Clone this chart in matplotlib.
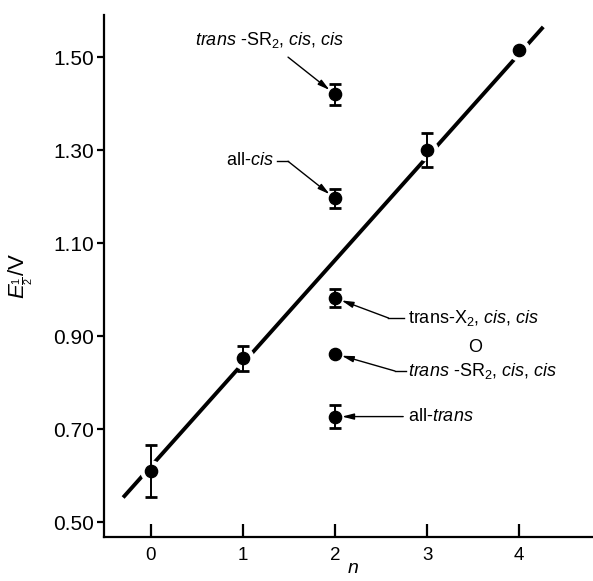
import matplotlib
matplotlib.use("Agg")
import matplotlib.pyplot as plt

plt.rcParams['font.family'] = ['Liberation Sans', 'DejaVu Sans']
plt.rcParams['mathtext.fontset'] = 'custom'
plt.rcParams['mathtext.rm'] = 'Liberation Sans'
plt.rcParams['mathtext.it'] = 'Liberation Sans:italic'

# points on the straight line
n_line = [0, 1, 3, 4]
e_line = [0.61, 0.852, 1.30, 1.515]
err_line = [0.055, 0.027, 0.037, 0.0]

# isomers with n = 2
n_iso = [2, 2, 2, 2, 2]
e_iso = [1.42, 1.196, 0.982, 0.862, 0.727]
err_iso = [0.022, 0.02, 0.02, 0.0, 0.025]

# fitted line (end points)
fit_n = [-0.30, 4.26]
fit_e = [0.553, 1.565]

fig = plt.figure(figsize=(5.93, 5.81), dpi=100)
ax = fig.add_axes([0.175, 0.0757, 0.825, 0.898])

ax.plot(fit_n, fit_e, color='black', lw=2.8, zorder=1, solid_capstyle='butt')

# white halo so the line looks broken at the points
ax.plot(n_line, e_line, 'o', ms=15, color='white', zorder=2)

for n, e, err in zip(n_line + n_iso, e_line + e_iso, err_line + err_iso):
    if err > 0:
        ax.errorbar(n, e, yerr=err, fmt='o', color='black', ms=8.8,
                    capsize=4.3, elinewidth=1.4, capthick=2.0, zorder=3)
    else:
        ax.plot(n, e, 'o', color='black', ms=8.8, zorder=3)

arrow = dict(arrowstyle='-|>,head_length=0.7,head_width=0.18', color='black',
             lw=1.0, shrinkA=0, shrinkB=5)
fs = 13

# top label
ax.text(1.29, 1.537, r'$\mathit{trans}$ -SR$_2$, $\mathit{cis}$, $\mathit{cis}$',
        fontsize=fs, ha='center', va='center')
ax.annotate('', xy=(2, 1.42), xytext=(1.49, 1.50), arrowprops=arrow)

# all-cis
ax.text(1.33, 1.278, r'all-$\mathit{cis}$', fontsize=fs, ha='right', va='center')
ax.plot([1.37, 1.49], [1.276, 1.276], color='black', lw=1.0)
ax.annotate('', xy=(2, 1.196), xytext=(1.49, 1.276), arrowprops=arrow)

# trans-X2
ax.text(2.79, 0.939, r'trans-X$_2$, $\mathit{cis}$, $\mathit{cis}$', fontsize=fs,
        ha='left', va='center')
ax.plot([2.58, 2.75], [0.939, 0.939], color='black', lw=1.0)
ax.annotate('', xy=(2, 0.982), xytext=(2.58, 0.939), arrowprops=arrow)

# stray O
ax.text(3.52, 0.876, 'O', fontsize=fs, ha='center', va='center')

# trans-SR2
ax.text(2.79, 0.825, r'$\mathit{trans}$ -SR$_2$, $\mathit{cis}$, $\mathit{cis}$',
        fontsize=fs, ha='left', va='center')
ax.plot([2.65, 2.77], [0.825, 0.825], color='black', lw=1.0)
ax.annotate('', xy=(2, 0.862), xytext=(2.65, 0.825), arrowprops=arrow)

# all-trans
ax.text(2.79, 0.727, r'all-$\mathit{trans}$', fontsize=fs, ha='left', va='center')
ax.annotate('', xy=(2, 0.727), xytext=(2.74, 0.727), arrowprops=arrow)

ax.set_xlim(-0.51, 4.80)
ax.set_ylim(0.468, 1.590)
ax.set_xticks([0, 1, 2, 3, 4])
ax.set_yticks([0.50, 0.70, 0.90, 1.10, 1.30, 1.50])
ax.set_yticklabels(['0.50', '0.70', '0.90', '1.10', '1.30', '1.50'])

for side in ['top', 'right']:
    ax.spines[side].set_visible(False)
for side in ['left', 'bottom']:
    ax.spines[side].set_linewidth(1.6)

ax.tick_params(axis='x', direction='in', length=9.5, width=1.6, labelsize=13.5, pad=7)
ax.tick_params(axis='y', direction='out', length=5, width=1.6, labelsize=15, pad=2)

ax.set_ylabel(r'$E_{\frac{1}{2}}$/V', fontsize=16)
ax.yaxis.set_label_coords(-0.14, 0.5)
ax.set_xlabel('n', fontsize=14, style='italic')
ax.xaxis.set_label_coords(0.51, -0.045)

fig.savefig('out.png', dpi=100)
